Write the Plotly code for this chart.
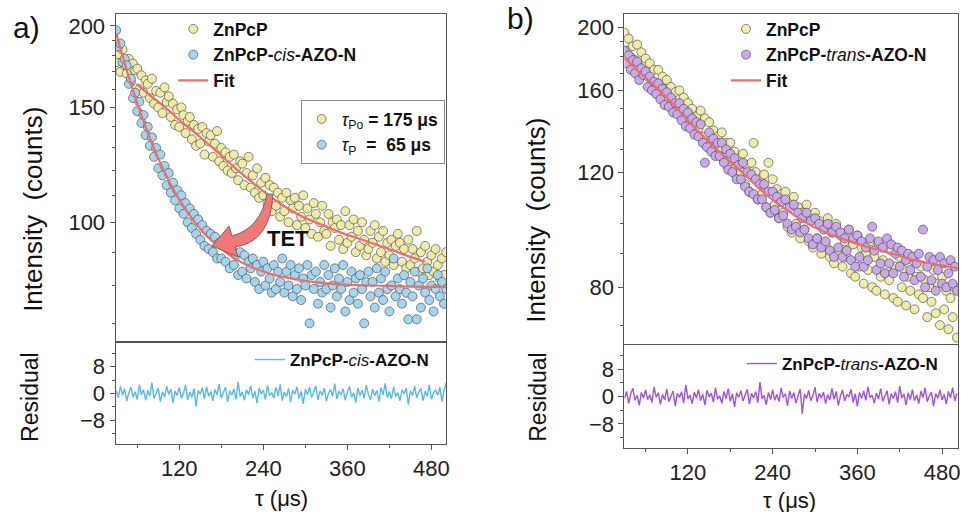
import plotly.graph_objects as go

# ---------------- data ----------------
t_us = list(range(30, 502, 3))  # time channels (μs)

znpcp_a = [176,181,170,184,174, 169,178,164,175,171, 172,160,168,158,165, 163,155,166,152,159,
           150,158,147,161,153, 156,145,152,141,149, 140,150,146,137,143, 145,134,141,131,139,
           132,140,127,137,133, 136,126,132,138,124, 130,122,128,120,126, 119,127,121,116,124,
           123,114,119,126,113, 118,111,121,109,115, 110,117,107,114,104, 113,106,111,102,109,
           104,111,100,108,105, 109,99,106,102,110, 98,105,101,96,107, 103,95,100,106,97,
           96,103,92,100,98, 101,94,99,91,104, 93,99,95,101,90, 97,92,100,94,89,
           91,97,93,99,88, 95,90,97,87,93, 89,94,86,92,96, 93,87,91,85,94,
           86,91,88,97,84, 90,85,92,87,83, 89,84,91,86,82, 88,83,90]

cis_a = [197,186,188,176,178, 174,163,166,155,158, 148,153,142,146,136, 140,131,135,126,130,
         121,127,118,122,114, 119,111,115,108,112, 105,110,103,107,100, 105,98,103,96,101,
         94,99,92,97,91, 96,90,95,88,93, 88,93,87,92,85, 91,86,89,83,90,
         84,89,82,87,85, 88,81,86,79,84, 87,80,85,82,78, 86,79,84,81,88,
         78,84,80,86,77, 83,79,85,76,82, 80,86,70,83,79, 84,75,81,78,86,
         79,83,74,80,85, 77,82,79,86,73, 81,76,84,78,82, 75,83,79,70,81,
         84,77,81,74,85, 78,82,76,84,79, 73,80,88,77,82, 79,75,83,78,71,
         81,77,84,71,80, 74,82,78,85,76, 80,73,79,83,77, 81,75,79]

znpcp_b = [196,184,192,180,187, 178,188,174,183,171, 179,168,176,164,172, 163,172,158,168,161,
           166,155,162,152,159, 150,160,147,156,145, 153,142,150,139,146, 140,149,136,145,133,
           143,131,139,128,136, 130,138,125,133,122, 133,121,129,118,126, 120,128,115,123,112,
           124,133,120,109,117, 111,119,106,124,104, 117,107,113,102,111, 104,112,99,108,97,
           110,100,106,95,104, 98,107,94,102,92, 104,95,101,90,99, 93,102,89,97,87,
           100,90,96,86,94, 89,98,84,93,83, 96,86,92,81,90, 85,94,80,89,79,
           93,83,88,78,86, 82,91,77,86,76, 89,80,85,75,83, 79,88,74,83,78,
           86,77,82,72,80, 76,85,73,81,70, 83,74,79,69,77, 72,80,67]

trans_b = [184,176,181,172,178, 170,177,166,173,169, 171,162,168,160,165, 158,164,155,161,152,
           159,151,156,148,153, 147,153,144,150,141, 148,140,145,137,143, 136,142,133,124,131,
           138,129,135,127,133, 127,133,124,130,121, 128,120,126,117,123, 117,124,114,120,112,
           119,111,117,109,115, 109,115,106,112,104, 112,105,110,102,108, 103,109,100,106,98,
           107,99,104,97,102, 98,104,95,101,93, 102,95,100,92,98, 94,100,91,97,89,
           99,92,97,89,95, 91,98,88,95,86, 96,89,94,86,92, 88,95,99,91,85,
           94,87,92,84,95, 87,93,84,90,92, 86,91,83,88,90, 85,89,82,87,90,
           83,98,80,86,89, 82,88,79,85,89, 81,87,80,84,88, 81,86,79]

fit_a_znpcp_t = [59, 80, 100, 125, 150, 175, 200, 225, 250, 275, 300, 325, 350, 375, 400, 425, 450, 471]
fit_a_znpcp = [163, 156, 150, 142, 135, 128, 121, 115, 109.5, 105, 101.5, 99, 96.5, 94.5, 92.5, 90.5, 88.5, 87]

fit_a_cis_t = [30, 40, 50, 60, 70, 80, 90, 100, 115, 130, 145, 160, 180, 200, 225, 250, 275, 300, 350, 400, 450, 501]
fit_a_cis = [194.8, 178.4, 164.3, 152.2, 141.9, 133.0, 125.3, 118.8, 110.6, 104.3, 99.1, 95.1, 91.0, 87.9,
             85.2, 83.4, 82.2, 81.3, 80.3, 80.0, 79.7, 79.6]

fit_b_t = [30, 50, 77, 100, 125, 150, 171, 200, 230, 260, 290, 320, 350, 377, 410, 440, 470, 502]
fit_b = [180, 171, 161, 152, 142, 133.5, 127, 119, 111, 105, 100, 96.5, 94, 92, 90, 88, 86.8, 85.5]

res_cis = [0.8,-1.2,2.1,-0.5,1.4,-2.3,0.3,1.9,-1.1,0.6,
           -1.8,2.6,-0.4,1.1,-2.0,0.9,-0.7,3.2,-1.5,0.2,
           1.6,-2.4,0.5,-1.0,2.2,-0.3,1.3,-2.8,0.7,-0.6,
           1.8,-1.4,0.1,2.5,-1.9,0.4,-1.1,1.5,-3.9,0.9,
           -0.2,1.7,-1.6,2.0,-0.8,0.6,-2.2,1.2,-0.4,2.8,
           -1.3,0.3,1.9,-2.5,0.8,-0.5,1.4,-1.7,3.4,-0.9,
           0.5,-2.0,1.1,-0.3,2.3,-1.4,0.7,-2.9,1.6,-0.1,
           1.0,-1.8,2.4,-0.6,0.2,-1.3,1.8,-0.7,2.7,-2.1,
           0.4,-0.9,1.5,-2.6,0.9,-0.2,2.0,-1.5,0.6,-3.1,
           1.3,-0.4,1.9,-1.2,0.3,2.2,-1.9,0.8,-0.5,1.6,
           -2.3,0.1,1.2,-0.8,2.9,-1.6,0.7,-0.3,1.4,-2.0,
           0.5,2.1,-1.1,0.2,-2.7,1.7,-0.6,1.0,-1.4,2.5,
           -0.2,-1.9,1.3,-0.7,0.9,-2.4,1.8,-0.4,3.0,-1.2,
           0.6,-1.5,2.0,-0.9,0.3,-2.2,1.1,-0.1,1.7,-3.3,
           0.8,-0.6,2.3,-1.3,0.4,1.5,-2.1,0.7,-0.8,2.6,
           -1.7,0.2,1.0,-0.5,1.9,-2.4,0.9,3.1]

res_trans = [-0.6,1.5,-2.0,0.8,2.4,-1.1,0.3,-2.6,1.2,-0.4,
             1.9,-0.9,0.5,-1.7,2.8,-0.2,1.1,-2.3,0.6,-1.0,
             2.2,-1.5,0.1,1.6,-2.8,0.9,-0.3,1.4,-1.9,3.3,
             -0.7,0.4,-2.1,1.3,-0.5,2.0,-1.2,0.7,-2.5,1.8,
             -0.1,1.0,-1.6,2.6,-0.8,0.2,-2.0,1.5,-0.6,2.3,
             -1.4,0.8,-3.0,1.1,-0.2,1.7,-1.3,0.5,2.1,-2.2,
             0.9,-0.4,1.4,-1.8,4.2,-0.7,0.3,-2.4,1.2,-0.9,
             2.0,-1.1,0.6,-1.5,2.5,-0.3,0.8,-2.7,1.6,-0.5,
             1.1,-1.9,0.4,2.2,-5.0,0.7,-0.6,1.8,-1.2,0.2,
             2.7,-1.6,0.9,-0.4,1.3,-2.1,0.5,-1.0,2.4,-0.8,
             1.5,-2.6,0.1,1.9,-1.3,0.6,-0.2,2.1,-1.7,0.8,
             -2.9,1.2,-0.5,1.6,-1.1,2.8,-0.3,0.4,-2.0,1.0,
             -0.7,2.3,-1.4,0.3,1.7,-2.3,0.9,-0.6,1.4,-1.8,
             3.0,-0.4,0.7,-2.5,1.1,-0.9,2.0,-1.2,0.5,-2.1,
             1.6,-0.3,2.5,-1.5,0.2,1.2,-2.8,0.8,-0.5,1.9,
             -1.0,0.6,-2.2,1.5,-0.4,2.6,-1.3,0.9]

y_major_a = [100, 150, 200]
y_minor_a = [70, 80, 90, 110, 120, 130, 140, 160, 170, 180, 190]
y_major_b = [80, 120, 160, 200]
y_minor_b = [70, 90, 100, 110, 130, 140, 150, 170, 180, 190]
x_major = [120, 240, 360, 480]
x_minor = [60, 180, 300, 420]
res_major = [-8, 0, 8]
res_minor = [-12, -4, 4, 12]

# ---------------- styling ----------------
W, H = 967, 512
FONT = "Liberation Sans, Arial, sans-serif"
YELLOW = "#efeca8"
BLUE = "#a3d6ee"
PURPLE = "#c9a9ea"
RED = "#f26b6b"
RES_BLUE = "#55b9f0"
RES_PURPLE = "#9d4ff0"
EDGE = "rgba(60,60,60,0.75)"
AX = "#555555"

def px(x):
    return x / W

def py(y):
    return 1 - y / H

def mk(color):
    return dict(size=9, color=color, line=dict(color=EDGE, width=0.8))

fig = go.Figure()

# panel a main
fig.add_trace(go.Scatter(x=t_us, y=znpcp_a, mode="markers", marker=mk(YELLOW),
                         name="<b>ZnPcP</b>", legend="legend", xaxis="x", yaxis="y"))
fig.add_trace(go.Scatter(x=t_us, y=cis_a, mode="markers", marker=mk(BLUE),
                         name="<b>ZnPcP-</b><i>cis</i><b>-AZO-N</b>", legend="legend", xaxis="x", yaxis="y"))
fig.add_trace(go.Scatter(x=fit_a_znpcp_t, y=fit_a_znpcp, mode="lines", line=dict(color=RED, width=2.2, shape="spline"),
                         name="<b>Fit</b>", legend="legend", xaxis="x", yaxis="y"))
fig.add_trace(go.Scatter(x=fit_a_cis_t, y=fit_a_cis, mode="lines", line=dict(color=RED, width=2.2, shape="spline"),
                         showlegend=False, xaxis="x", yaxis="y"))
# lifetime box (legend2)
fig.add_trace(go.Scatter(x=[None], y=[None], mode="markers", marker=mk(YELLOW),
                         name="<i>τ</i><sub>Po</sub> <b>= 175 μs</b>", legend="legend2", xaxis="x", yaxis="y"))
fig.add_trace(go.Scatter(x=[None], y=[None], mode="markers", marker=mk(BLUE),
                         name="<i>τ</i><sub>P</sub>\u00a0\u00a0<b>=\u00a0\u00a065 μs</b>", legend="legend2", xaxis="x", yaxis="y"))
# panel a residual
fig.add_trace(go.Scatter(x=t_us, y=res_cis, mode="lines", line=dict(color=RES_BLUE, width=1.4),
                         name="<b>ZnPcP-</b><i>cis</i><b>-AZO-N</b>", legend="legend3", xaxis="x2", yaxis="y2"))

# panel b main
fig.add_trace(go.Scatter(x=t_us, y=znpcp_b, mode="markers", marker=mk(YELLOW),
                         name="<b>ZnPcP</b>", legend="legend4", xaxis="x3", yaxis="y3"))
fig.add_trace(go.Scatter(x=t_us, y=trans_b, mode="markers", marker=mk(PURPLE),
                         name="<b>ZnPcP-</b><i>trans</i><b>-AZO-N</b>", legend="legend4", xaxis="x3", yaxis="y3"))
fig.add_trace(go.Scatter(x=fit_b_t, y=fit_b, mode="lines", line=dict(color=RED, width=2.2, shape="spline"),
                         name="<b>Fit</b>", legend="legend4", xaxis="x3", yaxis="y3"))
# panel b residual
fig.add_trace(go.Scatter(x=t_us, y=res_trans, mode="lines", line=dict(color=RES_PURPLE, width=1.4),
                         name="<b>ZnPcP-</b><i>trans</i><b>-AZO-N</b>", legend="legend5", xaxis="x4", yaxis="y4"))

tickfont = dict(family=FONT, size=22, color="#222")

def xmain(dom, rng):
    return dict(domain=dom, range=rng, showline=True, linecolor=AX, linewidth=1, mirror=True,
                showgrid=False, zeroline=False, showticklabels=False, ticks="")

def xres(dom, rng, anchor):
    return dict(domain=dom, range=rng, anchor=anchor, showline=True, linecolor=AX, linewidth=1, mirror=True,
                showgrid=False, zeroline=False, tickmode="array", tickvals=x_major, ticks="outside",
                ticklen=5, tickcolor=AX, tickfont=tickfont,
                minor=dict(tickmode="array", tickvals=x_minor, ticks="outside", ticklen=3, tickcolor=AX))

def ymain(dom, rng, major, minor, anchor):
    return dict(domain=dom, type="log", range=rng, anchor=anchor, showline=True, linecolor=AX, linewidth=1,
                mirror=True, showgrid=False, zeroline=False, tickmode="array", tickvals=major,
                ticktext=[str(v) for v in major], ticks="outside", ticklen=5, tickcolor=AX, tickfont=tickfont,
                minor=dict(tickmode="array", tickvals=minor, ticks="outside", ticklen=3, tickcolor=AX))

def yres(dom, rng, anchor):
    return dict(domain=dom, range=rng, anchor=anchor, showline=True, linecolor=AX, linewidth=1, mirror=True,
                showgrid=False, zeroline=False, tickmode="array", tickvals=res_major, ticks="outside",
                ticklen=5, tickcolor=AX, tickfont=tickfont,
                minor=dict(tickmode="array", tickvals=res_minor, ticks="outside", ticklen=3, tickcolor=AX))

dom_a = [px(116), px(448)]
dom_b = [px(627), px(962)]

LEG_MAIN = dict(family=FONT, size=17.5, color="#111")
LEG_RES = dict(family=FONT, size=17, color="#111")

fig.update_layout(
    width=W, height=H, margin=dict(l=0, r=0, t=0, b=0),
    paper_bgcolor="white", plot_bgcolor="white",
    font=dict(family=FONT, color="#222"),
    xaxis=xmain(dom_a, [29, 501]) | dict(anchor="y"),
    yaxis=ymain([py(341), py(14)], [1.818, 2.3193], y_major_a, y_minor_a, "x"),
    xaxis2=xres(dom_a, [29, 501], "y2"),
    yaxis2=yres([py(444), py(343)], [-15, 15], "x2"),
    xaxis3=xmain(dom_b, [30, 502.6]) | dict(anchor="y3"),
    yaxis3=ymain([py(344), py(14)], [1.8162, 2.3210], y_major_b, y_minor_b, "x3"),
    xaxis4=xres(dom_b, [30, 502.6], "y4"),
    yaxis4=yres([py(448), py(345)], [-15, 15], "x4"),
    legend=dict(x=px(174), y=py(11), xanchor="left", yanchor="top", bgcolor="rgba(0,0,0,0)",
                font=LEG_MAIN),
    legend2=dict(x=px(302), y=py(100), xanchor="left", yanchor="top", bgcolor="white",
                 bordercolor="#888", borderwidth=1, font=LEG_MAIN),
    legend3=dict(x=px(251), y=py(342), xanchor="left", yanchor="top", bgcolor="rgba(0,0,0,0)",
                 font=LEG_RES),
    legend4=dict(x=px(729), y=py(11), xanchor="left", yanchor="top", bgcolor="rgba(0,0,0,0)",
                 font=LEG_MAIN),
    legend5=dict(x=px(745), y=py(346), xanchor="left", yanchor="top", bgcolor="rgba(0,0,0,0)",
                 font=LEG_RES),
)

# curved TET arrow (decoration, paper coordinates)
arrow_px = [("M", 274, 194), ("Q", 272, 242, 236, 247), ("L", 239, 257), ("L", 213, 246),
            ("L", 230, 226), ("L", 233, 236), ("Q", 262, 228, 268, 194)]
parts = []
for seg in arrow_px:
    cmd, coords = seg[0], seg[1:]
    pts = []
    for i in range(0, len(coords), 2):
        pts.append(f"{px(coords[i]):.5f},{py(coords[i+1]):.5f}")
    parts.append(cmd + " " + " ".join(pts))
path = " ".join(parts) + " Z"
fig.add_shape(type="path", path=path, xref="paper", yref="paper",
              fillcolor="#f27777", line=dict(color="#555", width=0.8), layer="above")

ann = [
    dict(text="a)", x=px(27), y=py(27), size=30, angle=0),
    dict(text="b)", x=px(523), y=py(18), size=30, angle=0),
    dict(text="<b>TET</b>", x=px(289), y=py(238), size=22, angle=0),
    dict(text="Intensity\u00a0\u00a0(counts)", x=px(33), y=py(209), size=26, angle=-90),
    dict(text="Intensity\u00a0\u00a0(counts)", x=px(538), y=py(220), size=26, angle=-90),
    dict(text="Residual", x=px(30), y=py(397), size=23, angle=-90),
    dict(text="Residual", x=px(540), y=py(397), size=23, angle=-90),
    dict(text="τ (μs)", x=px(283), y=py(498), size=22, angle=0),
    dict(text="τ (μs)", x=px(793), y=py(500), size=22, angle=0),
]
for a in ann:
    fig.add_annotation(text=a["text"], x=a["x"], y=a["y"], xref="paper", yref="paper",
                       xanchor="center", yanchor="middle", showarrow=False, textangle=a["angle"],
                       font=dict(family=FONT, size=a["size"], color="#111"))

fig.write_html("out.html", config={"displayModeBar": False},
               post_script="document.body.style.margin='0';document.body.style.overflow='hidden';")
